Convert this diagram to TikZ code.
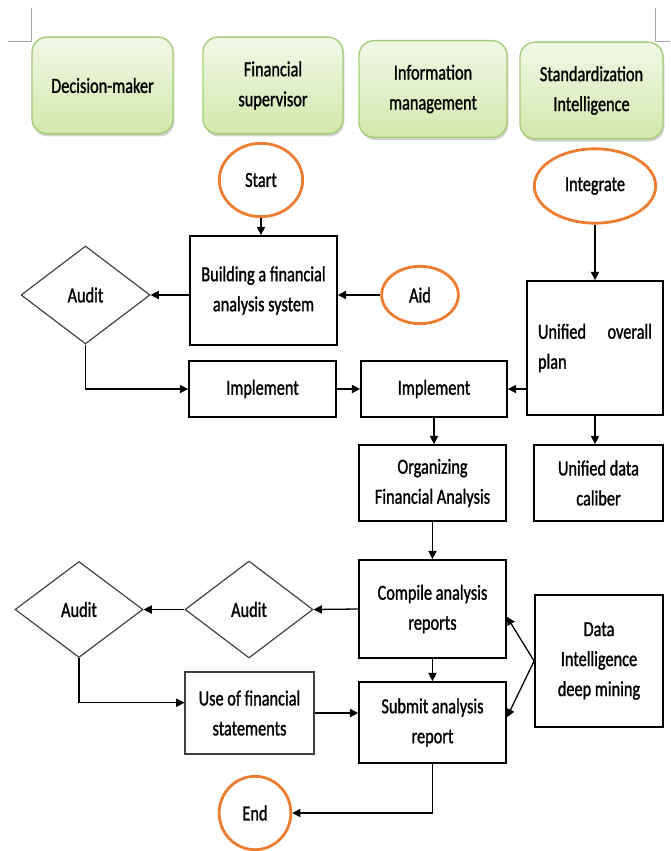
\documentclass[tikz,border=0pt]{standalone}
\usepackage{fontspec}
\setmainfont{Carlito}[FakeStretch=0.76, FakeBold=1.2]
\usetikzlibrary{shapes.geometric,arrows.meta,shadows}
\definecolor{lanetop}{HTML}{F1F8E6}
\definecolor{lanebottom}{HTML}{D2E8AC}
\definecolor{laneline}{HTML}{A6CE7A}
\definecolor{termline}{HTML}{ED7D31}
\tikzset{
  lane/.style={draw=laneline, line width=1.2pt, rounded corners=0.45cm, top color=lanetop, bottom color=lanebottom,
    drop shadow={shadow xshift=0.04cm, shadow yshift=-0.08cm, opacity=0.35}, minimum height=2.9cm, align=center},
  term/.style={draw=termline, ellipse, line width=2.4pt, fill=white, inner sep=0pt},
  box/.style={draw, rectangle, line width=1.5pt, fill=white, align=center, inner sep=2pt},
  thinbox/.style={draw=black!75, rectangle, line width=1pt, fill=white, align=center, inner sep=2pt},
  audit/.style={draw=black!75, diamond, line width=1pt, fill=white, inner sep=0pt},
  >={Triangle[length=7pt,width=7pt]}
}
\begin{document}
\begin{tikzpicture}[x=0.03cm, y=-0.03cm, font=\fontsize{18.3}{25.6}\selectfont, line width=1.1pt]
\path[use as bounding box, fill=white] (0,0) rectangle (670,851);
\draw[black!35, line width=0.8pt] (31,8) -- (31,41) -- (8,41);
\draw[black!35, line width=0.8pt] (655,8) -- (655,41) -- (670,41);

\node[lane, minimum width=4.23cm] (decision) at (102.5,85.5) {Decision-maker};
\node[lane, minimum width=4.2cm] (supervisor) at (273,85.5) {Financial\\supervisor};
\node[lane, minimum width=4.44cm] (infomgmt) at (433,89) {Information\\management};
\node[lane, minimum width=4.29cm] (standard) at (591.5,90.5) {Standardization\\Intelligence};

\node[term, minimum width=2.5cm, minimum height=2.2cm] (start) at (261,180) {Start};
\node[term, minimum width=3.64cm, minimum height=2.23cm] (integrate) at (595,186) {Integrate};
\node[term, minimum width=2.3cm, minimum height=1.72cm] (aid) at (420,295) {Aid};
\node[term, minimum width=2.15cm, minimum height=2.2cm] (finish) at (255,813) {End};

\node[box, minimum width=4.41cm, minimum height=3.27cm] (building) at (263.5,290.5) {Building a financial\\analysis system};
\node[box, minimum width=4.41cm, minimum height=1.68cm] (implement1) at (262.5,389) {Implement};
\node[box, minimum width=4.38cm, minimum height=1.68cm] (implement2) at (434,389) {Implement};
\node[box, minimum width=4.08cm, minimum height=4.02cm, text width=3.42cm, align=left] (plan) at (595,348) {Unified\hfill overall\\plan};
\node[box, minimum width=4.41cm, minimum height=2.28cm] (organizing) at (432.5,483) {Organizing\\Financial Analysis};
\node[box, minimum width=3.87cm, minimum height=2.28cm] (caliber) at (598.5,483) {Unified data\\caliber};
\node[box, minimum width=4.41cm, minimum height=2.94cm] (compile) at (432.5,609) {Compile analysis\\reports};
\node[box, minimum width=4.41cm, minimum height=2.43cm] (submit) at (432.5,722.5) {Submit analysis\\report};
\node[box, minimum width=3.84cm, minimum height=3.96cm] (mining) at (599,661) {Data\\Intelligence\\deep mining};
\node[thinbox, minimum width=3.87cm, minimum height=2.46cm] (statements) at (249.5,713) {Use of financial\\statements};

\node[audit, minimum width=3.87cm, minimum height=2.94cm] (audit1) at (85.5,295) {Audit};
\node[audit, minimum width=3.84cm, minimum height=2.91cm] (audit2) at (249,609.5) {Audit};
\node[audit, minimum width=3.84cm, minimum height=2.88cm] (audit3) at (79,609.5) {Audit};

\draw[->] (start.south) -- (start.south |- building.north);
\draw[->] (building.west |- audit1) -- (audit1.east);
\draw[->] (aid.west) -- (aid.west -| building.east);
\draw[->] (audit1.south) |- (implement1.west);
\draw[->] (implement1.east) -- (implement2.west);
\draw[->] (plan.west |- implement2) -- (implement2.east);
\draw[->] (integrate.south) -- (plan.north);
\draw[->] (implement2.south) -- (implement2.south |- organizing.north);
\draw[->] (plan.south) -- (plan.south |- caliber.north);
\draw[->] (organizing.south) -- (compile.north);
\draw[->] (compile.west) -- (audit2.east);
\draw[->] (audit2.west) -- (audit3.east);
\draw[->] (audit3.south) |- (statements.171);
\draw[->] (statements.east) -- (statements.east -| submit.west);
\draw[->] (compile.south) -- (submit.north);
\draw[->] (mining.west) -- (compile.354);
\draw[->] (mining.west) -- (submit.4);
\draw[->] (submit.south) |- (finish.east);
\end{tikzpicture}
\end{document}
